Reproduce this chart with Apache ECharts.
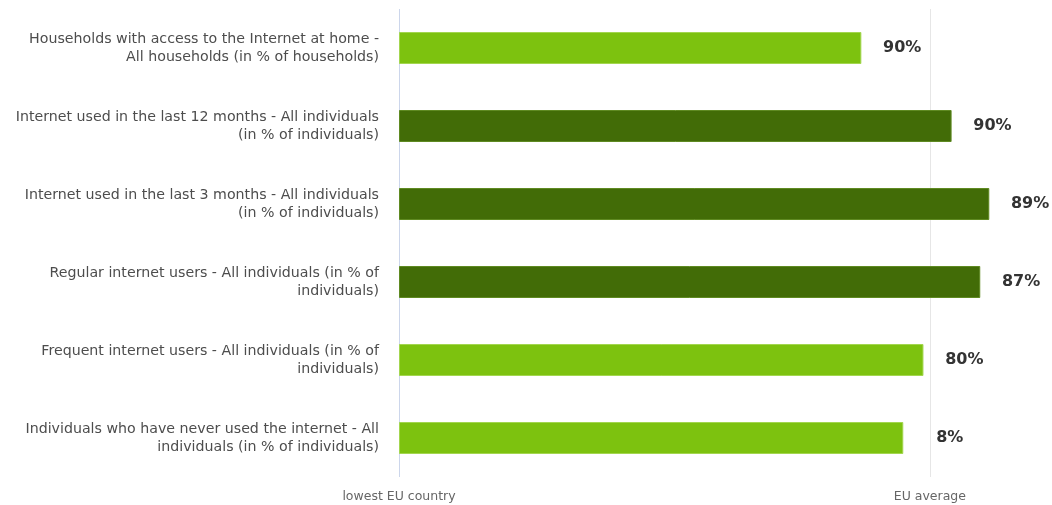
<!DOCTYPE html>
<html>
<head>
<meta charset="utf-8">
<script src="https://cdn.jsdelivr.net/npm/echarts@6/dist/echarts.min.js"></script>
<style>
  html, body { margin: 0; padding: 0; background: #fff; }
  #chart { width: 1052px; height: 505px; }
</style>
</head>
<body>
<div id="chart"></div>
<script>
// Indicators, top to bottom
const categories = [
  'Households with access to the Internet at home -\nAll households (in % of households)',
  'Internet used in the last 12 months - All individuals\n(in % of individuals)',
  'Internet used in the last 3 months - All individuals\n(in % of individuals)',
  'Regular internet users - All individuals (in % of\nindividuals)',
  'Frequent internet users - All individuals (in % of\nindividuals)',
  'Individuals who have never used the internet - All\nindividuals (in % of individuals)'
];
// Relative score: 0 = lowest EU country, 100 = EU average
const scores = [87.1, 104.1, 111.2, 109.5, 98.8, 95.0];
// Country value of each indicator (percent)
const values = [90, 90, 89, 87, 80, 8];
// Reference marks on the score scale
const refTicks = { 0: 'lowest EU country', 100: 'EU average' };

const LIGHT = '#7dc20f';
const DARK = '#426c07';

const chart = echarts.init(document.getElementById('chart'));
chart.setOption({
  animation: false,
  grid: { left: 399, right: 16, top: 9, bottom: 28 },
  xAxis: {
    type: 'value',
    min: 0,
    max: 120,
    interval: 100,
    axisLine: { show: false },
    axisTick: { show: false },
    splitLine: { show: false },
    axisLabel: {
      showMaxLabel: false,
      margin: 13,
      color: '#666',
      fontSize: 12.5,
      fontFamily: 'DejaVu Sans',
      formatter: v => refTicks[v] || ''
    }
  },
  yAxis: {
    type: 'category',
    inverse: true,
    data: categories,
    axisLine: { show: false },
    axisTick: { show: false },
    axisLabel: {
      margin: 20,
      color: '#4d4d4d',
      fontSize: 14.2,
      lineHeight: 18,
      fontFamily: 'DejaVu Sans',
      align: 'right'
    }
  },
  series: [
    {
      // reference lines, drawn beneath the bars
      type: 'line',
      data: [],
      z: 1,
      silent: true,
      markLine: {
        z: 1,
        silent: true,
        symbol: 'none',
        label: { show: false },
        data: Object.keys(refTicks).map(k => ({
          xAxis: Number(k),
          lineStyle: { color: Number(k) === 0 ? '#ccd6eb' : '#e6e6e6', width: 1, type: 'solid' }
        }))
      }
    },
    {
      type: 'bar',
      barWidth: 32,
      z: 3,
      data: scores.map((s, i) => ({
        value: s,
        itemStyle: {
          color: s > 100 ? DARK : LIGHT,
          borderColor: s > 100 ? '#5f8a22' : '#a3d64f',
          borderWidth: 1
        },
        label: { formatter: values[i] + '%' }
      })),
      label: {
        show: true,
        position: 'right',
        distance: 60,
        align: 'right',
        color: '#333',
        fontSize: 16,
        fontWeight: 'bold',
        fontFamily: 'DejaVu Sans'
      }
    }
  ]
});
</script>
</body>
</html>
